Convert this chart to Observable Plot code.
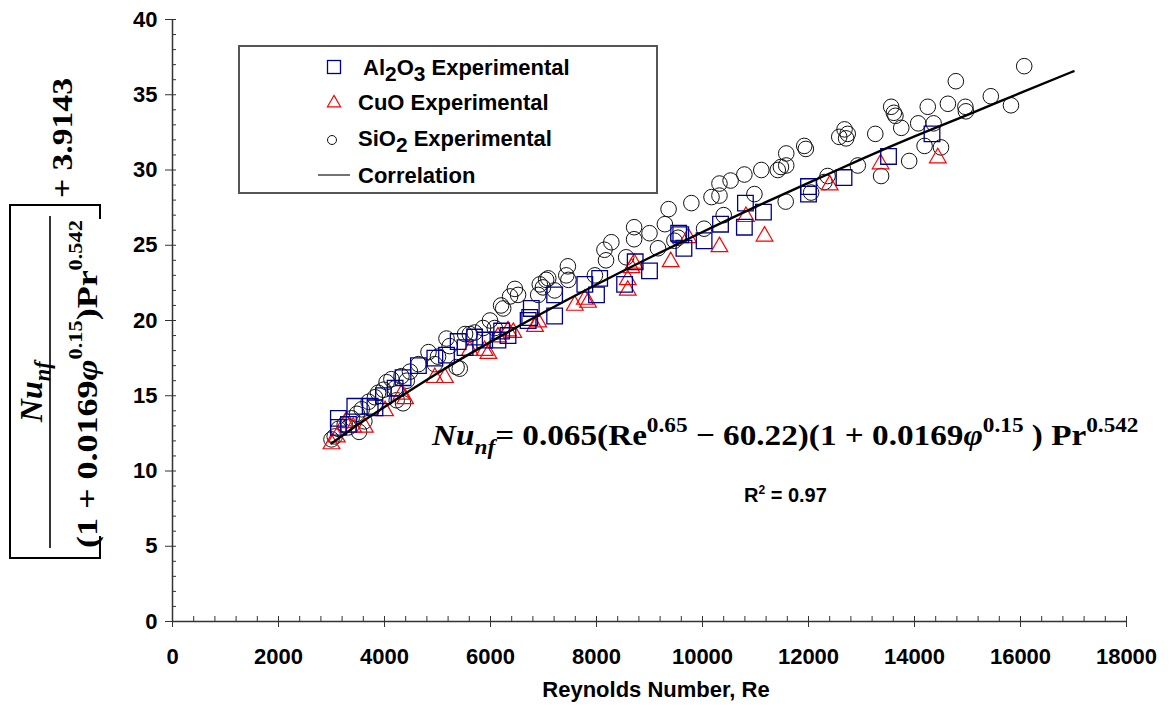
<!DOCTYPE html>
<html>
<head>
<meta charset="utf-8">
<script src="https://cdn.jsdelivr.net/npm/d3@7"></script>
<script src="https://cdn.jsdelivr.net/npm/@observablehq/plot@0.6"></script>
<style>
  body { margin: 0; background: #fff; }
  #chart { position: relative; width: 1169px; height: 710px; }
  text.ann { white-space: pre; }
</style>
</head>
<body>
<div id="chart"></div>
<script>
// ---------- data ----------
const al2o3 = [[3130,13.5],[3130,12.9],[3320,13.1],[3440,14.3],[3730,14.3],[3820,14.2],[3980,15.0],[4200,15.5],[4350,16.2],[4640,17.0],[4950,17.5],[5170,17.7],[5390,18.6],[5520,18.2],[5700,18.9],[5890,18.7],[6140,18.7],[6210,19.3],[6330,19.0],[6710,20.0],[6740,20.2],[6770,20.8],[7210,21.7],[7210,20.3],[7780,22.4],[8000,21.7],[8060,22.8],[8530,22.4],[8730,23.9],[9000,23.3],[9550,25.8],[9590,25.7],[9650,24.8],[10030,25.3],[10340,26.4],[10790,26.2],[10810,27.8],[11150,27.2],[12000,28.4],[12000,28.9],[12670,29.5],[13510,30.9],[14330,32.4]];
const cuo = [[3000,11.8],[3100,12.25],[3260,13.2],[3410,12.9],[3630,12.9],[4010,14.0],[4320,15.1],[4390,14.8],[4950,16.2],[5140,16.2],[5610,18.0],[5890,18.0],[5960,17.8],[6140,18.9],[6330,19.3],[6430,19.2],[6840,19.6],[6900,19.9],[7590,21.0],[7780,21.4],[7840,21.2],[8590,22.0],[8590,22.7],[8660,23.5],[8710,23.8],[9400,23.9],[9730,25.5],[10320,24.9],[10820,26.9],[11170,25.6],[12400,29.0],[13360,30.4],[14440,30.8]];
const sio2 = [[3000,12.1],[3060,12.3],[3130,12.8],[3250,13.1],[3320,12.9],[3380,13.5],[3480,13.8],[3520,12.6],[3570,14.1],[3620,13.3],[3700,14.6],[3820,14.9],[3880,15.2],[3980,15.4],[4040,15.9],[4130,16.1],[4200,15.5],[4230,14.7],[4320,16.3],[4350,14.5],[4420,16.0],[4480,16.6],[4640,17.1],[4830,17.9],[4950,17.1],[5010,17.6],[5170,18.8],[5230,18.3],[5360,16.9],[5420,16.8],[5520,19.1],[5610,19.1],[5700,19.2],[5860,19.5],[5990,20.0],[6080,19.5],[6200,21.0],[6240,20.8],[6370,21.6],[6460,22.1],[6520,21.7],[6900,21.7],[6930,22.4],[6990,22.2],[7050,22.7],[7090,22.8],[7210,22.0],[7430,23.0],[7460,23.6],[7470,22.7],[7970,23.0],[8150,24.7],[8180,24.0],[8280,25.2],[8560,24.2],[8710,26.2],[8710,25.4],[9000,25.8],[9160,24.8],[9290,26.4],[9360,27.4],[9470,25.3],[9540,25.5],[9790,27.8],[10030,26.1],[10170,28.2],[10320,29.1],[10320,28.3],[10400,27.0],[10530,29.3],[10790,29.7],[10980,28.4],[11110,30.0],[11420,30.0],[11480,30.2],[11580,31.1],[11580,30.3],[11570,27.9],[11920,31.6],[11950,31.4],[12050,28.5],[12300,29.2],[12360,29.6],[12580,32.2],[12680,32.7],[12710,32.1],[12740,32.4],[12930,30.3],[13260,32.4],[13370,29.6],[13560,34.2],[13610,33.8],[13640,33.6],[13750,32.8],[13900,30.6],[14070,33.1],[14190,31.6],[14250,34.2],[14360,33.1],[14500,31.5],[14630,34.4],[14780,35.9],[14960,34.2],[14970,33.9],[15440,34.9],[15820,34.3],[16070,36.9]];
const correlationRe = [3000,3500,4000,5000,6000,7000,8000,9000,10000,11000,12000,13000,14000,15000,16000,17000];
const correlationNu = [11.83,13.09,14.26,16.50,18.58,20.53,22.39,24.17,25.88,27.55,29.14,30.72,32.23,33.67,35.12,36.56];
const xMajorTicks = [0,2000,4000,6000,8000,10000,12000,14000,16000,18000];
const xMinorTicks = d3.range(0, 18001, 400);
const yMajorTicks = [0,5,10,15,20,25,30,35,40];
const yMinorTicks = d3.range(0, 41, 1);
const xLabel = "Reynolds Number, Re";
const legendLabels = ["Experimental", "Correlation"];

// ---------- tables ----------
const toRows = (arr) => arr.map(([re, nu]) => ({re, nu}));
const corrRows = correlationRe.map((re, i) => ({re, nu: correlationNu[i]}));

const SERIF = "'Liberation Serif','Times New Roman',serif";
const SANS = "'Liberation Sans',Arial,sans-serif";
const NAVY = "#000090";
const RED = "#ff0000";

const plot = Plot.plot({
  width: 1169,
  height: 710,
  marginLeft: 172,
  marginRight: 43,
  marginTop: 19,
  marginBottom: 89,
  style: {fontFamily: SANS, background: "white", overflow: "visible"},
  x: {domain: [0, 18000]},
  y: {domain: [0, 40]},
  marks: [
    Plot.axisX({ticks: xMinorTicks, tickSize: -5, tickFormat: () => "", label: null, stroke: "#333"}),
    Plot.axisX({ticks: xMajorTicks, tickSize: 6, tickPadding: 21, tickFormat: d => String(d), label: null,
                fontSize: 22, fontWeight: "bold", stroke: "#333"}),
    Plot.axisY({ticks: yMinorTicks, tickSize: -4, tickFormat: () => "", label: null, stroke: "#333"}),
    Plot.axisY({ticks: yMajorTicks, tickSize: 7, tickPadding: 8, tickFormat: d => String(d), label: null,
                fontSize: 22, fontWeight: "bold", stroke: "#333"}),
    Plot.ruleX([0], {stroke: "#333", strokeWidth: 1.5}),
    Plot.ruleY([0], {stroke: "#333", strokeWidth: 1.5}),
    Plot.dot(toRows(sio2), {x: "re", y: "nu", r: 7.8, stroke: "#111", strokeWidth: 1, fill: "none"}),
    Plot.dot(toRows(cuo), {x: "re", y: "nu", symbol: "triangle", r: 6.2, stroke: RED, strokeWidth: 1.2, fill: "none"}),
    Plot.dot(toRows(al2o3), {x: "re", y: "nu", symbol: "square", r: 8.8, stroke: NAVY, strokeWidth: 1.3, fill: "none"}),
    Plot.line(corrRows, {x: "re", y: "nu", stroke: "#000", strokeWidth: 2.4, curve: "natural"})
  ]
});
document.getElementById("chart").appendChild(plot);

const svg = d3.select(plot);

// rich text helper: parts with optional sup/sub/italic
function rich(parent, parts, size, family, opts = {}) {
  const t = parent.append("text")
    .attr("class", "ann")
    .attr("text-anchor", "start")
    .attr("font-family", family)
    .attr("font-weight", "bold")
    .attr("font-size", size)
    .attr("fill", "#000");
  let cur = 0;
  const supOff = opts.supOff ?? -0.42 * size;
  const subOff = opts.subOff ?? 0.28 * size;
  const small = opts.small ?? 0.65;
  for (const p of parts) {
    const off = p.sup ? supOff : p.sub ? subOff : 0;
    t.append("tspan")
      .attr("dy", off - cur)
      .attr("font-size", (p.sup || p.sub) ? size * (p.scale ?? small) : size)
      .attr("font-style", p.it ? "italic" : null)
      .text(p.t);
    cur = off;
  }
  return t;
}
// place text group so that its ink width equals target along its own x axis
function fitted(parent, parts, size, family, x0, y0, target, opts) {
  const g = parent.append("g");
  const t = rich(g, parts, size, family, opts);
  const w = t.node().getBBox().width;
  const s = target ? target / w : 1;
  g.attr("transform", `translate(${x0},${y0}) scale(${s},1)`);
  return {g, w: w * s};
}

// x-axis label
svg.append("text").attr("x", 656).attr("y", 697).attr("text-anchor", "middle")
  .attr("font-family", SANS).attr("font-weight", "bold").attr("font-size", 22).text(xLabel);

// equation inside plot
fitted(svg, [
  {t: "Nu", it: true}, {t: "nf", it: true, sub: true},
  {t: "= 0.065(Re"}, {t: "0.65", sup: true},
  {t: " \u2212 60.22)(1 + 0.0169"}, {t: "\u03c6", it: true}, {t: "0.15", sup: true},
  {t: " ) Pr"}, {t: "0.542", sup: true}
], 30, SERIF, 432, 445, 708, {subOff: 9, supOff: -13, small: 0.7});

// R^2
rich(svg.append("g").attr("transform", "translate(744,502)"),
  [{t: "R"}, {t: "2", sup: true}, {t: " = 0.97"}], 20, SANS, {supOff: -8, small: 0.6});

// ---------- legend ----------
const lg = svg.append("g");
lg.append("rect").attr("x", 239).attr("y", 46).attr("width", 418).attr("height", 147)
  .attr("fill", "white").attr("stroke", "#555").attr("stroke-width", 2);
lg.append("rect").attr("x", 327.5).attr("y", 60.5).attr("width", 13).attr("height", 13)
  .attr("fill", "none").attr("stroke", NAVY).attr("stroke-width", 1.3);
lg.append("path").attr("d", d3.symbol(d3.symbolTriangle, 75)()).attr("transform", "translate(334,103)")
  .attr("fill", "none").attr("stroke", RED).attr("stroke-width", 1.2);
lg.append("circle").attr("cx", 332).attr("cy", 140).attr("r", 4.5)
  .attr("fill", "none").attr("stroke", "#111").attr("stroke-width", 1);
lg.append("line").attr("x1", 318).attr("x2", 350).attr("y1", 175).attr("y2", 175)
  .attr("stroke", "#444").attr("stroke-width", 1.5);
const lgOpts = {subOff: 6, small: 0.95};
rich(lg.append("g").attr("transform", "translate(363,75)"),
  [{t: "Al"}, {t: "2", sub: true}, {t: "O"}, {t: "3", sub: true}, {t: " " + legendLabels[0]}], 22, SANS, lgOpts);
rich(lg.append("g").attr("transform", "translate(358,110)"),
  [{t: "CuO " + legendLabels[0]}], 22, SANS, lgOpts);
rich(lg.append("g").attr("transform", "translate(358,146)"),
  [{t: "SiO"}, {t: "2", sub: true}, {t: " " + legendLabels[0]}], 22, SANS, lgOpts);
rich(lg.append("g").attr("transform", "translate(358,183)"),
  [{t: legendLabels[1]}], 22, SANS, lgOpts);

// ---------- rotated y-axis label ----------
const yl = svg.append("g").attr("transform", "translate(0,558) rotate(-90)");
yl.append("path").attr("d", "M22,100H0V10H353V100H339")
  .attr("fill", "none").attr("stroke", "#000").attr("stroke-width", 2);
yl.append("line").attr("x1", 10).attr("x2", 342).attr("y1", 50).attr("y2", 50)
  .attr("stroke", "#000").attr("stroke-width", 1.6);
// numerator
{
  const g = yl.append("g");
  const t = rich(g, [{t: "Nu", it: true}, {t: "nf", it: true, sub: true}], 32, SERIF, {subOff: 8, small: 0.7});
  const w = t.node().getBBox().width;
  g.attr("transform", `translate(${168 - w / 2},42)`);
}
// denominator
fitted(yl, [
  {t: "(1 + 0.0169"}, {t: "\u03c6", it: true}, {t: "0.15", sup: true},
  {t: ")Pr"}, {t: "0.542", sup: true}
], 30, SERIF, 10, 97, 328, {supOff: -15, small: 0.62});
// + 3.9143
fitted(yl, [{t: "+ 3.9143"}], 30, SERIF, 360, 72, 120);
</script>
</body>
</html>
